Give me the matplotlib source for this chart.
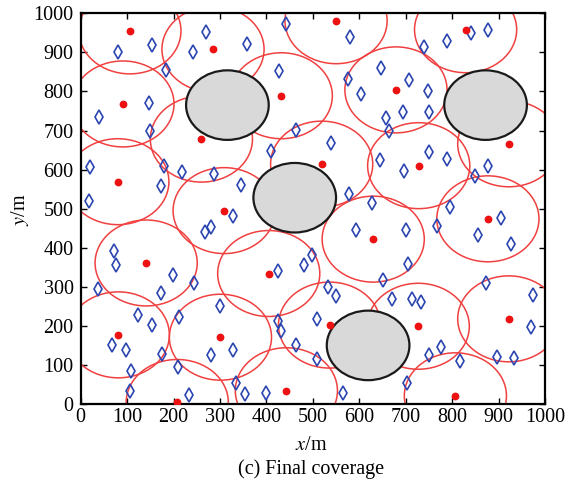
import matplotlib
matplotlib.use("Agg")
import matplotlib.pyplot as plt
from matplotlib.patches import Circle

plt.rcParams['font.family'] = ['Liberation Serif', 'DejaVu Serif']
plt.rcParams['mathtext.fontset'] = 'stix'

# Sensor nodes (red dots), each with a sensing circle
sensor_x = [106, 285, 91, 432, 260, 80, 309, 550, 829, 679, 922, 519, 728,
            877, 141, 405, 81, 301, 443, 208, 630, 536, 727, 922, 807]
sensor_y = [955, 908, 768, 789, 678, 569, 495, 981, 958, 804, 666, 614, 610,
            474, 361, 334, 177, 171, 34, 4, 422, 202, 199, 218, 21]
sensing_radius = 110

# Target points (blue diamonds)
target_x = [81, 154, 241, 270, 183, 147, 39, 149, 21, 180, 218, 287, 173, 18, 345,
            442, 358, 579, 428, 647, 576, 604, 657, 663, 463, 539, 410, 644, 577, 628,
            739, 788, 841, 878, 708, 747, 695, 750, 751, 789, 696, 850, 878, 795,
            329, 281, 268, 72, 77, 38, 198, 243, 173, 299, 123, 212, 154, 67, 97,
            175, 280, 328, 210, 108, 334, 107, 234,
            594, 424, 482, 498, 651, 533, 549, 671, 509, 425, 431, 464, 510, 353, 399, 566,
            701, 768, 905, 856, 927, 704, 874, 975, 714, 733, 969, 777, 750, 816, 897, 933, 703]
target_y = [900, 920, 900, 951, 854, 770, 735, 698, 607, 610, 595, 588, 557, 520, 561,
            973, 922, 939, 853, 860, 833, 793, 732, 698, 701, 667, 647, 625, 538, 514,
            914, 929, 950, 956, 829, 800, 748, 747, 646, 628, 596, 583, 609, 503,
            480, 453, 439, 391, 357, 294, 331, 311, 284, 250, 229, 223, 201, 152, 138,
            128, 125, 138, 96, 84, 54, 33, 24,
            445, 341, 357, 381, 318, 299, 276, 270, 218, 212, 186, 152, 115, 26, 28, 28,
            446, 456, 476, 432, 410, 359, 311, 278, 269, 262, 196, 146, 125, 109, 120, 118, 53]

# Obstacles (gray discs)
obstacle_x = [316, 461, 872, 619]
obstacle_y = [765, 528, 765, 150]
obstacle_r = [89, 89, 89, 89]

ticks = list(range(0, 1001, 100))

fig = plt.figure(figsize=(5.67, 4.82), dpi=100)
ax = fig.add_axes([0.1423, 0.1618, 0.8189, 0.8106])

for cx, cy in zip(sensor_x, sensor_y):
    ax.add_patch(Circle((cx, cy), sensing_radius, fill=False, edgecolor='#f04040',
                        linewidth=1.1, zorder=2))
for ox, oy, r in zip(obstacle_x, obstacle_y, obstacle_r):
    ax.add_patch(Circle((ox, oy), r, facecolor='#d9d9d9', edgecolor='#1a1a1a',
                        linewidth=1.6, zorder=3))

ax.plot(target_x, target_y, linestyle='none', marker='d', markersize=7.5,
        markerfacecolor='none', markeredgecolor='#2b45b0', markeredgewidth=1.2, zorder=4)
ax.plot(sensor_x, sensor_y, linestyle='none', marker='o', markersize=4.6,
        color='#ee1111', zorder=5)

ax.set_xlim(0, 1000)
ax.set_ylim(0, 1000)
ax.set_xticks(ticks)
ax.set_yticks(ticks)
ax.tick_params(direction='in', length=4, width=1, top=True, right=True,
               labelsize=14.5, colors='black')
ax.tick_params(axis='x', pad=3)
ax.tick_params(axis='y', pad=5)
for s in ax.spines.values():
    s.set_linewidth(1.6)

fig.text(311 / 567, 1 - 446 / 482, '$x$/m', ha='center', va='center', fontsize=14.5)
fig.text(20 / 567, 1 - 210 / 482, '$y$/m', ha='center', va='center', fontsize=14.5,
         rotation=90)
fig.text(311 / 567, 1 - 469 / 482, '(c) Final coverage', ha='center', va='center',
         fontsize=14.5)

fig.savefig('out.png', dpi=100)
